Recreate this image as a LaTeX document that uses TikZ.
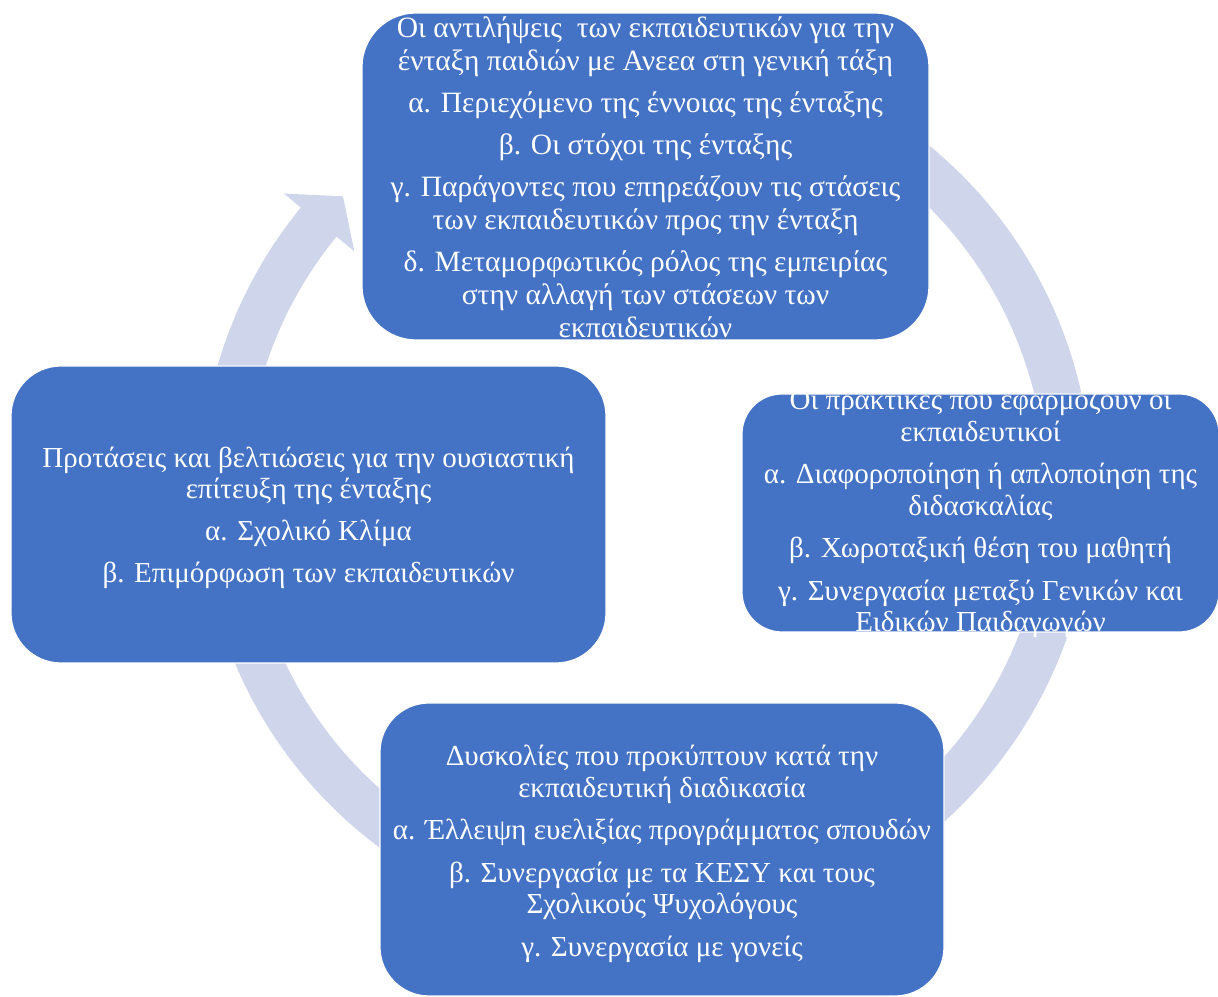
\documentclass[tikz,border=0pt]{standalone}
\usepackage{fontspec}
\setmainfont{Liberation Serif}
\usetikzlibrary{calc}
\definecolor{boxblue}{HTML}{4472C4}
\definecolor{ringc}{HTML}{CFD5EA}
\tikzset{
  cyclebox/.style={fill=boxblue, draw=white, line width=1.2pt, inner sep=0pt},
  cycletext/.style={text=white, align=center, inner sep=0pt, font=\fontsize{29}{31.5}\selectfont},
}
\begin{document}
\begin{tikzpicture}[x=1pt,y=1pt]
\useasboundingbox (0,0) rectangle (1218,996);
% circular arrow
\begin{scope}[shift={(646,506)}]
\fill[ringc] (110:400pt) arc[start angle=110, end angle=-219.3, radius=400pt]
  -- (-219.3:377pt) -- (-224.1:422pt) -- (-219.3:468pt) -- (-219.3:446pt)
  arc[start angle=-219.3, end angle=110, radius=446pt] -- cycle;
\end{scope}
% boxes
\node[cyclebox, minimum width=567pt, minimum height=327pt, rounded corners=54pt] (top) at (645.5,819.5) {};
\node[cyclebox, minimum width=477pt, minimum height=238pt, rounded corners=40pt] (right) at (980.5,483) {};
\node[cyclebox, minimum width=564pt, minimum height=293pt, rounded corners=49pt] (bottom) at (662,146.5) {};
\node[cyclebox, minimum width=595pt, minimum height=297pt, rounded corners=50pt] (left) at (308.5,481.5) {};
% texts
\node[cycletext, font=\fontsize{29.5}{33}\selectfont] (toptext) at ([yshift=-1pt]top.center) {Οι αντιλήψεις~ των εκπαιδευτικών για την\\ ένταξη παιδιών με Ανεεα στη γενική τάξη\\[9pt]
α. Περιεχόμενο της έννοιας της ένταξης\\[9pt]
β. Οι στόχοι της ένταξης\\[9pt]
γ. Παράγοντες που επηρεάζουν τις στάσεις\\ των εκπαιδευτικών προς την ένταξη\\[9pt]
δ. Μεταμορφωτικός ρόλος της εμπειρίας\\ στην αλλαγή των στάσεων των\\ εκπαιδευτικών};
\node[cycletext] (righttext) at ([yshift=-0.5pt]right.center) {Οι πρακτικές που εφαρμόζουν οι\\ εκπαιδευτικοί\\[11pt]
α. Διαφοροποίηση ή απλοποίηση της\\ διδασκαλίας\\[11pt]
β. Χωροταξική θέση του μαθητή\\[11pt]
γ. Συνεργασία μεταξύ Γενικών και\\ Ειδικών Παιδαγωγών};
\node[cycletext] (bottomtext) at ([yshift=-4.5pt]bottom.center) {Δυσκολίες που προκύπτουν κατά την\\ εκπαιδευτική διαδικασία\\[11pt]
α. Έλλειψη ευελιξίας προγράμματος σπουδών\\[11pt]
β. Συνεργασία με τα ΚΕΣΥ και τους\\ Σχολικούς Ψυχολόγους\\[11pt]
γ. Συνεργασία με γονείς};
\node[cycletext] (lefttext) at ([yshift=-3.5pt]left.center) {Προτάσεις και βελτιώσεις για την ουσιαστική\\ επίτευξη της ένταξης\\[10pt]
α. Σχολικό Κλίμα\\[11pt]
β. Επιμόρφωση των εκπαιδευτικών};
\end{tikzpicture}
\end{document}
